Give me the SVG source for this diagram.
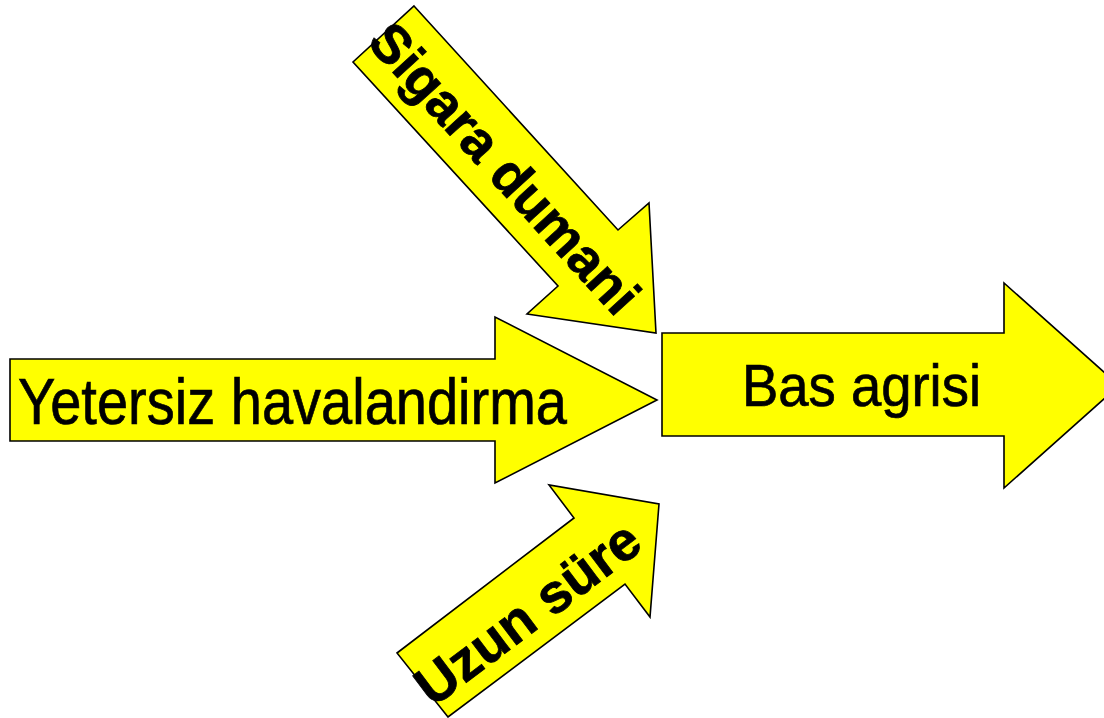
<svg xmlns="http://www.w3.org/2000/svg" width="1104" height="718" viewBox="0 0 1104 718">
  <style>
    .arrow { fill: #FFFF00; stroke: #000000; stroke-width: 1.6; stroke-linejoin: miter; }
    .plain { font-family: "Liberation Sans", Arial, sans-serif; font-weight: normal; fill: #000000; stroke: #000000; stroke-width: 0.7; }
    .bold { font-family: "Liberation Sans", Arial, sans-serif; font-weight: bold; fill: #000000; stroke: #000000; stroke-width: 0.8; }
  </style>
  <rect width="1104" height="718" fill="#FFFFFF"/>

  <!-- Diagonal cause arrow from the upper left -->
  <g id="sigara-dumani">
    <polygon class="arrow" points="414,6 618,230 649,203 656,333 527,314 558,286 353,62"/>
    <text class="bold" font-size="54" text-anchor="middle" transform="translate(505,168) rotate(47.7)" y="19">Sigara dumani</text>
  </g>

  <!-- Horizontal cause arrow -->
  <g id="yetersiz-havalandirma">
    <polygon class="arrow" points="10,359 495,359 495,317 657,400 495,483 495,441 10,441"/>
    <text class="plain" x="18" y="424" font-size="64" textLength="549" lengthAdjust="spacingAndGlyphs">Yetersiz havalandirma</text>
  </g>

  <!-- Diagonal cause arrow from the lower left -->
  <g id="uzun-sure">
    <polygon class="arrow" points="397,653 574,518 549,485 659,504 650,617 625,584 448,717"/>
    <text class="bold" font-size="55" text-anchor="middle" transform="translate(527,612) rotate(-37)" y="20">Uzun süre</text>
  </g>

  <!-- Effect arrow -->
  <g id="bas-agrisi">
    <polygon class="arrow" points="662,333 1004,333 1004,283 1119,385.5 1004,488 1004,436 662,436"/>
    <text class="plain" x="742" y="406" font-size="59" textLength="239" lengthAdjust="spacingAndGlyphs">Bas agrisi</text>
  </g>

  <g id="connectors"></g>
</svg>
